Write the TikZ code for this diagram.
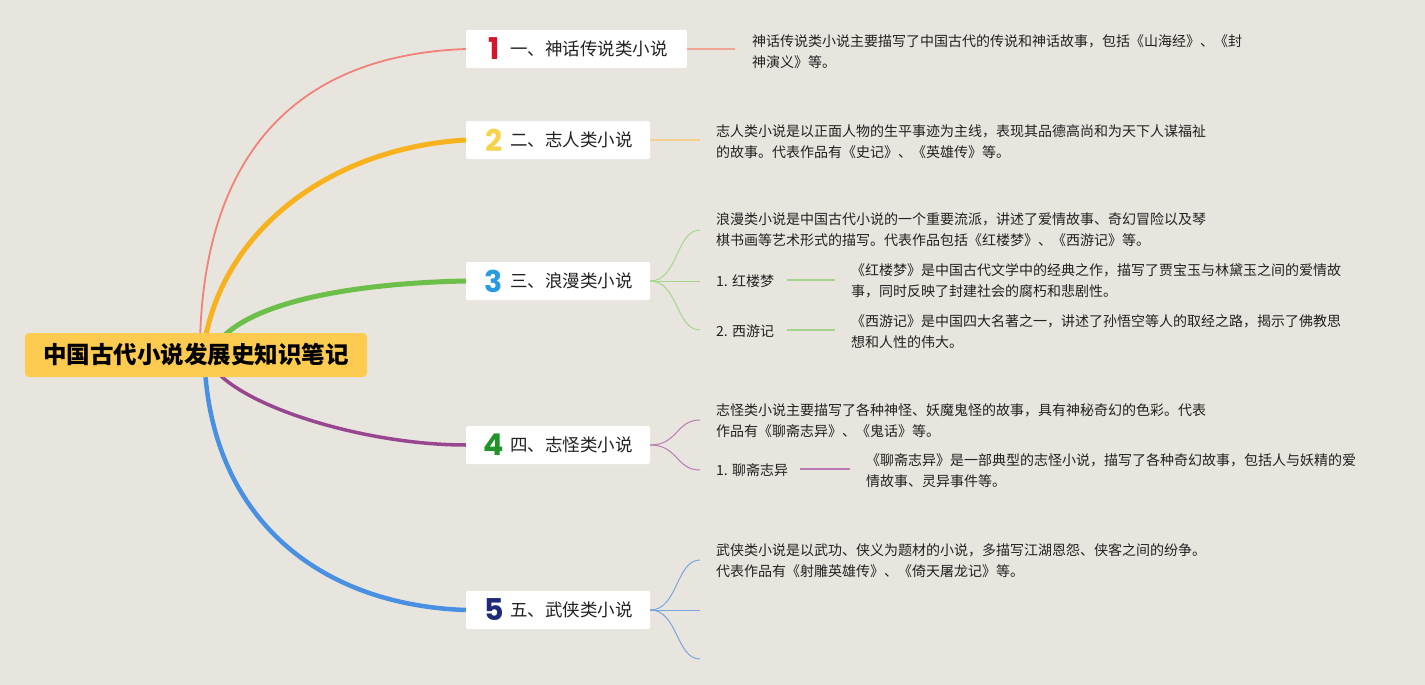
\documentclass[tikz,border=0pt]{standalone}
\usepackage{fontspec}
\newfontfamily\cjk{Noto Sans CJK SC}
\newfontfamily\numfont{Poppins}
\definecolor{bgc}{HTML}{E8E5DF}
\definecolor{rootc}{HTML}{FCCB4F}
\definecolor{textc}{HTML}{222222}
\definecolor{c1}{HTML}{F08278}
\definecolor{c1s}{HTML}{F0A595}
\definecolor{c2}{HTML}{F7B21D}
\definecolor{c2s}{HTML}{F3D08E}
\definecolor{c3}{HTML}{6CC04A}
\definecolor{c3s}{HTML}{A5D58B}
\definecolor{c4}{HTML}{964790}
\definecolor{c4s}{HTML}{B97BB2}
\definecolor{c5}{HTML}{4A90E2}
\definecolor{c5s}{HTML}{7AA6DD}
\definecolor{n1}{HTML}{D4152B}
\definecolor{n2}{HTML}{F6D34A}
\definecolor{n3}{HTML}{2A9BE0}
\definecolor{n4}{HTML}{22922B}
\definecolor{n5}{HTML}{1E2A78}
\tikzset{
  rootbox/.style={fill=rootc, rounded corners=4pt, minimum width=342pt, minimum height=44pt, inner sep=0pt,
    font=\cjk\bfseries\fontsize{23.5}{26}\selectfont, text=black},
  topicbox/.style={fill=white, rounded corners=2pt, minimum height=38pt, inner sep=0pt},
  topictext/.style={anchor=west, inner sep=0pt, font=\cjk\fontsize{17.5}{20}\selectfont, text=textc},
  numtext/.style={inner sep=0pt, font=\numfont\bfseries\fontsize{30}{32}\selectfont},
  desc/.style={anchor=west, inner sep=0pt, align=left, font=\cjk\fontsize{14}{21}\selectfont, text=textc},
  sublabel/.style={anchor=west, inner sep=0pt, font=\cjk\fontsize{14}{16}\selectfont, text=textc},
}
\begin{document}
\begin{tikzpicture}[x=1pt,y=-1pt]
\fill[bgc] (0,0) rectangle (1425,685);
\useasboundingbox (0,0) rectangle (1425,685);

% branch curves (drawn first, under the root)
\coordinate (r1) at (200,340);
\coordinate (r2) at (205,340);
\coordinate (r3) at (220,340);
\coordinate (r4) at (215,370);
\coordinate (r5) at (205,370);

% topic boxes
\node[topicbox, minimum width=221pt] (b1) at (576.5,49) {};
\node[topicbox, minimum width=184pt] (b2) at (558,140) {};
\node[topicbox, minimum width=184pt] (b3) at (558,281) {};
\node[topicbox, minimum width=184pt] (b4) at (558,445) {};
\node[topicbox, minimum width=184pt] (b5) at (558,610) {};

\draw[c1, line width=1.8pt] (r1) .. controls (205,150) and (300,55) .. (b1.west);
\draw[c2, line width=5pt] (r2) .. controls (225,230) and (330,148) .. (b2.west);
\draw[c3, line width=5pt] (r3) .. controls (255,300) and (360,283) .. (b3.west);
\draw[c4, line width=3.5pt] (r4) .. controls (250,410) and (370,445) .. (b4.west);
\draw[c5, line width=4.5pt] (r5) .. controls (215,520) and (320,605) .. (b5.west);

% root
\node[rootbox] (root) at (196,355) {中国古代小说发展史知识笔记};

% numbers and topic labels
\node[numtext, text=n1] (m1) at (494,49) {1};
\node[topictext] (t1) at (510,49) {一、神话传说类小说};
\node[numtext, text=n2] (m2) at (494,140) {2};
\node[topictext] (t2) at (510,140) {二、志人类小说};
\node[numtext, text=n3] (m3) at (494,281) {3};
\node[topictext] (t3) at (510,281) {三、浪漫类小说};
\node[numtext, text=n4] (m4) at (494,445) {4};
\node[topictext] (t4) at (510,445) {四、志怪类小说};
\node[numtext, text=n5] (m5) at (494,610) {5};
\node[topictext] (t5) at (510,610) {五、武侠类小说};

% branch 1
\node[desc] (d1) at (752,51.5) {神话传说类小说主要描写了中国古代的传说和神话故事，包括《山海经》、《封\\神演义》等。};
\coordinate (e1) at (735,49);
\draw[c1s, line width=1.2pt] (b1.east) -- (e1);

% branch 2
\node[desc] (d2) at (716,141.5) {志人类小说是以正面人物的生平事迹为主线，表现其品德高尚和为天下人谋福祉\\的故事。代表作品有《史记》、《英雄传》等。};
\coordinate (e2) at (700,140);
\draw[c2s, line width=1.2pt] (b2.east) -- (e2);

% branch 3
\node[desc] (d3) at (716,230) {浪漫类小说是中国古代小说的一个重要流派，讲述了爱情故事、奇幻冒险以及琴\\棋书画等艺术形式的描写。代表作品包括《红楼梦》、《西游记》等。};
\node[sublabel] (s31) at (716,281) {1. 红楼梦};
\node[sublabel] (s32) at (716,331) {2. 西游记};
\node[desc] (d31) at (851,280.5) {《红楼梦》是中国古代文学中的经典之作，描写了贾宝玉与林黛玉之间的爱情故\\事，同时反映了封建社会的腐朽和悲剧性。};
\node[desc] (d32) at (851,331.5) {《西游记》是中国四大名著之一，讲述了孙悟空等人的取经之路，揭示了佛教思\\想和人性的伟大。};
\coordinate (k3a) at (700,230);
\coordinate (k3b) at (700,281);
\coordinate (k3c) at (700,330);
\draw[c3s, line width=1pt] (b3.east) .. controls (678,281) and (676,230) .. (k3a);
\draw[c3s, line width=1pt] (b3.east) -- (k3b);
\draw[c3s, line width=1pt] (b3.east) .. controls (678,281) and (676,330) .. (k3c);
\coordinate (e31) at (787,280);
\coordinate (e32) at (787,330);
\draw[c3s, line width=1.2pt] (e31) -- ([xshift=-16pt]d31.west |- e31);
\draw[c3s, line width=1.2pt] (e32) -- ([xshift=-16pt]d32.west |- e32);

% branch 4
\node[desc] (d4) at (716,421) {志怪类小说主要描写了各种神怪、妖魔鬼怪的故事，具有神秘奇幻的色彩。代表\\作品有《聊斋志异》、《鬼话》等。};
\node[sublabel] (s41) at (716,470) {1. 聊斋志异};
\node[desc] (d41) at (866,470.5) {《聊斋志异》是一部典型的志怪小说，描写了各种奇幻故事，包括人与妖精的爱\\情故事、灵异事件等。};
\coordinate (k4a) at (700,420);
\coordinate (k4b) at (700,470);
\draw[c4s, line width=1pt] (b4.east) .. controls (678,445) and (676,420) .. (k4a);
\draw[c4s, line width=1pt] (b4.east) .. controls (678,445) and (676,470) .. (k4b);
\coordinate (e41) at (800,469);
\draw[c4s, line width=1.2pt] (e41) -- ([xshift=-16pt]d41.west |- e41);

% branch 5
\node[desc] (d5) at (716,561) {武侠类小说是以武功、侠义为题材的小说，多描写江湖恩怨、侠客之间的纷争。\\代表作品有《射雕英雄传》、《倚天屠龙记》等。};
\coordinate (k5a) at (700,560);
\coordinate (k5b) at (700,610);
\coordinate (k5c) at (700,659);
\draw[c5s, line width=1pt] (b5.east) .. controls (678,610) and (676,560) .. (k5a);
\draw[c5s, line width=1pt] (b5.east) -- (k5b);
\draw[c5s, line width=1pt] (b5.east) .. controls (678,610) and (676,659) .. (k5c);
\end{tikzpicture}
\end{document}
